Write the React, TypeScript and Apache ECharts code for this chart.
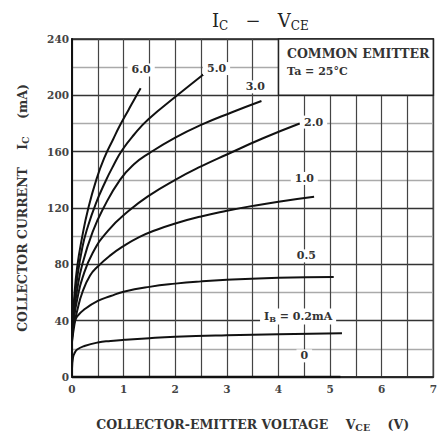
import React, { useEffect, useRef } from 'react';
import * as echarts from 'echarts';

// Ic - Vce characteristic curves, one array per base current (V, mA)
const ibNames = ['6.0', '5.0', '3.0', '2.0', '1.0', '0.5', '0.2', '0'];
const ib60 = [[0, 30], [0.04, 55], [0.1, 78], [0.2, 100], [0.31, 119], [0.47, 140], [0.63, 156], [0.8, 169], [0.92, 178], [1.1, 190], [1.22, 198], [1.33, 205]];
const ib50 = [[0, 30], [0.04, 50], [0.1, 70], [0.2, 92], [0.3, 106], [0.46, 123], [0.65, 139], [0.8, 150], [0.97, 161], [1.2, 172], [1.48, 183], [2.04, 200], [2.55, 215]];
const ib30 = [[0, 28], [0.04, 45], [0.1, 62], [0.2, 80], [0.4, 103], [0.61, 120], [0.93, 140], [1.2, 151], [1.5, 159], [2.0, 170], [2.5, 179], [3.1, 188], [3.67, 196]];
const ib20 = [[0, 28], [0.04, 42], [0.1, 55], [0.2, 70], [0.4, 88], [0.7, 104], [1.1, 118], [1.5, 129], [2.0, 140], [2.5, 149.5], [3.0, 158], [3.7, 169.5], [4.41, 180]];
const ib10 = [[0, 25], [0.05, 38], [0.1, 47], [0.2, 60], [0.35, 72], [0.5, 78.5], [0.73, 86], [1.0, 93], [1.31, 99.5], [1.6, 104], [2.0, 109], [2.5, 114], [3.0, 118], [3.5, 121.5], [4.0, 124.5], [4.69, 128]];
const ib05 = [[0, 26], [0.02, 35], [0.05, 39], [0.1, 43], [0.24, 48], [0.5, 54], [0.75, 57.5], [1.0, 60.5], [1.5, 64], [2.0, 66.3], [2.5, 67.9], [3.0, 69], [4.0, 70.4], [5.07, 71]];
const ib02 = [[0, 6], [0.02, 14], [0.05, 17], [0.1, 19.5], [0.24, 22], [0.5, 24.5], [0.75, 25.6], [1.0, 26.4], [1.5, 27.6], [2.0, 28.5], [3.0, 29.6], [4.0, 30.4], [5.23, 31]];
const ib00 = [[0, 0], [5.2, 0]];
const curves = [ib60, ib50, ib30, ib20, ib10, ib05, ib02, ib00];

const xTickLabels = ['0', '1', '2', '3', '4', '5', '6', '7'];
const yTickLabels = ['0', '40', '80', '120', '160', '200', '240'];

const SERIF = '"DejaVu Serif", "Liberation Serif", serif';

// label anchor (data coordinates) for each curve's tag
const labelAt = [[1.34, 218], [2.8, 219], [3.55, 206], [4.68, 181], [4.5, 141], [4.54, 86], [4.38, 43], [4.5, 15]];

export default function App() {
  const ref = useRef<HTMLDivElement>(null);
  useEffect(() => {
    if (!ref.current) return;
    const chart = echarts.init(ref.current, null, { renderer: 'svg' });
    const labelFont = { fontFamily: SERIF, fontWeight: 'bold' as const, fontSize: 11, color: '#333' };
    const nameRich = {
      n: { fontFamily: SERIF, fontWeight: 'bold' as const, fontSize: 12.5, color: '#333', lineHeight: 15, verticalAlign: 'middle' as const },
      s: { fontFamily: SERIF, fontWeight: 'bold' as const, fontSize: 9.5, color: '#333', lineHeight: 8, verticalAlign: 'bottom' as const },
    };
    const series: any[] = curves.map((data, i) => {
      const isIbLabel = ibNames[i] === '0.2';
      return {
        type: 'line',
        name: ibNames[i],
        data,
        smooth: i === 7 ? false : 0.5,
        symbol: 'none',
        z: 5,
        lineStyle: { color: '#111', width: i === 7 ? 2.5 : 2 },
        markPoint: {
          silent: true,
          symbol: 'rect',
          symbolSize: 0,
          z: 6,
          data: [{ coord: labelAt[i] }],
          label: {
            show: true,
            position: 'inside',
            formatter: isIbLabel ? '{n|I}{s|B}{n| = 0.2mA}' : ibNames[i],
            ...labelFont,
            backgroundColor: '#fff',
            padding: [1, 4],
            rich: {
              n: { ...labelFont, lineHeight: 14, verticalAlign: 'middle' },
              s: { ...labelFont, fontSize: 8, lineHeight: 8, verticalAlign: 'bottom' },
            },
          },
        },
      };
    });
    // legend box (white panel at upper right)
    series[0].markArea = {
      silent: true,
      itemStyle: { color: '#fff', borderColor: '#222', borderWidth: 1.5 },
      data: [[{ coord: [4, 240] }, { coord: [7, 200] }]],
    };

    chart.setOption({
      animation: false,
      backgroundColor: '#fff',
      title: {
        text: '{n|I}{s|C}{n|   −   V}{s|CE}',
        left: 207,
        top: 3,
        textStyle: {
          rich: {
            n: { fontFamily: SERIF, fontWeight: 'normal', fontSize: 18, color: '#222', lineHeight: 24, verticalAlign: 'middle' },
            s: { fontFamily: SERIF, fontWeight: 'normal', fontSize: 12, color: '#222', lineHeight: 12, verticalAlign: 'bottom' },
          },
        },
      },
      grid: {
        left: 72, right: 3, top: 39, bottom: 59,
        show: true, borderColor: '#222', borderWidth: 1.5, backgroundColor: '#fff',
      },
      xAxis: {
        type: 'value', min: 0, max: 7, interval: 0.5,
        axisLine: { show: true, lineStyle: { color: '#222', width: 1.5 } },
        axisTick: { show: false },
        axisLabel: {
          margin: 6,
          fontFamily: SERIF, fontWeight: 'bold', fontSize: 10.5, color: '#444',
          formatter: (v: number) => (Number.isInteger(v) ? xTickLabels[v] : ''),
        },
        splitLine: { show: true, lineStyle: { color: '#444', width: 1.2 } },
        name: '{n|COLLECTOR-EMITTER VOLTAGE    V}{s|CE}{n|    (V)}',
        nameLocation: 'middle',
        nameGap: 40,
        nameTextStyle: { rich: nameRich },
      },
      yAxis: {
        type: 'value', min: 0, max: 240, interval: 20,
        axisLine: { show: true, lineStyle: { color: '#111', width: 2 } },
        axisTick: { show: false },
        axisLabel: {
          margin: 3,
          fontFamily: SERIF, fontWeight: 'bold', fontSize: 10.5, color: '#444',
          formatter: (v: number) => (v % 40 === 0 ? yTickLabels[v / 40] : ''),
        },
        splitLine: { show: true, lineStyle: { color: ['#333', '#aaa'], width: 1.3 } },
        name: '{n|COLLECTOR CURRENT    I}{s|C}{n|    (mA)}',
        nameLocation: 'middle',
        nameGap: 42,
        nameTextStyle: { rich: nameRich },
      },
      graphic: [
        {
          type: 'text', left: 287, top: 47, z: 100,
          style: { text: 'COMMON EMITTER', font: `bold 12.5px ${SERIF}`, fill: '#333' },
        },
        {
          type: 'text', left: 287, top: 66, z: 100,
          style: { text: 'Ta = 25°C', font: `bold 11px ${SERIF}`, fill: '#333' },
        },
      ],
      series,
    });
    return () => chart.dispose();
  }, []);
  return <div ref={ref} style={{ position: 'fixed', left: 0, top: 0, width: 440, height: 437 }} />;
}
